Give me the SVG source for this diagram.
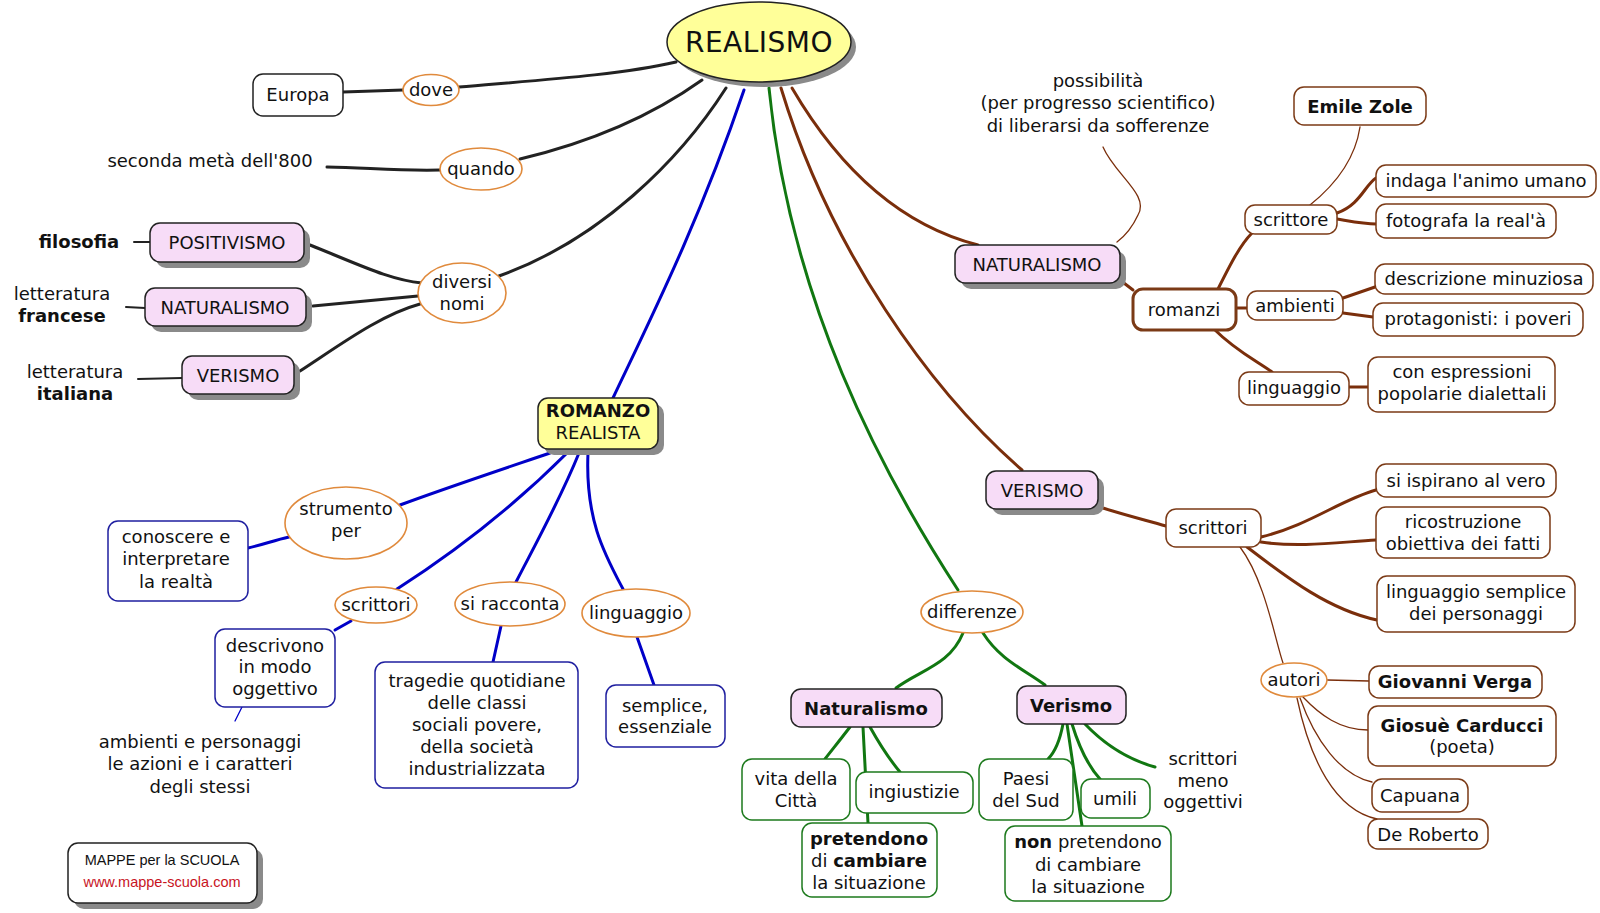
<svg xmlns="http://www.w3.org/2000/svg" width="1600" height="913" viewBox="0 0 1600 913">
<style>
text{font-family:"DejaVu Sans",Verdana,sans-serif;font-size:18px;fill:#111;text-anchor:middle}
.b{font-weight:bold}
.l{text-anchor:start}
.sh{fill:#8a8a8a}
.pk{fill:#f7dcf7;stroke:#222;stroke-width:1.5}
.yl{fill:#ffff99;stroke:#222;stroke-width:1.5}
.wb{fill:#fff;stroke:#222;stroke-width:1.5}
.ov{fill:#fff;stroke:#e08a3c;stroke-width:1.6}
.bl{fill:#fff;stroke:#1f1fa0;stroke-width:1.5}
.gr{fill:#fff;stroke:#1d7a1d;stroke-width:1.5}
.br{fill:#fff;stroke:#7b3a16;stroke-width:1.5}
#connectors path{fill:none;stroke-width:3;stroke-linecap:round}
#connectors .k{stroke:#222}
#connectors .u{stroke:#0000c8}
#connectors .g{stroke:#117711}
#connectors .r{stroke:#7a2e0b}
#connectors .t{stroke-width:1.3}
</style>
<rect width="1600" height="913" fill="#fff"/>
<g id="connectors">
<path class="k" d="M343,92 L403,90"/>
<path class="k" d="M459,87 C540,80 620,75 676,62"/>
<path class="k" d="M327,167 C370,168 400,171 440,170"/>
<path class="k" d="M520,159 C600,140 660,110 702,80"/>
<path class="k" d="M499,276 C600,240 680,160 726,88"/>
<path class="k" d="M310,245 C360,265 390,280 422,283"/>
<path class="k" d="M313,306 L418,296"/>
<path class="k" d="M300,371 C340,345 380,315 420,304"/>
<path class="k t" style="stroke-width:2" d="M134,242 L150,242"/>
<path class="k t" style="stroke-width:2" d="M126,307 L145,308"/>
<path class="k t" style="stroke-width:2" d="M138,379 L182,378"/>
<path class="u" d="M744,90 C700,220 650,320 613,398"/>
<path class="u" d="M550,453 C500,470 440,490 400,505"/>
<path class="u" d="M289,537 C275,540 262,545 248,548"/>
<path class="u" d="M567,453 C510,510 450,555 397,589"/>
<path class="u" d="M351,621 L335,630"/>
<path class="u" d="M579,453 C560,500 535,545 516,582"/>
<path class="u" d="M501,626 L493,662"/>
<path class="u" d="M588,453 C585,520 605,555 623,589"/>
<path class="u" d="M637,637 L654,685"/>
<path class="u t" d="M242,707 L235,721"/>
<path class="g" d="M769,88 C790,300 880,470 958,590"/>
<path class="g" d="M963,633 C950,665 920,670 896,688"/>
<path class="g" d="M983,633 C1000,660 1025,670 1045,685"/>
<path class="g" d="M850,727 C840,740 832,750 825,759"/>
<path class="g" d="M863,727 L868,823"/>
<path class="g" d="M870,727 C880,745 890,760 900,772"/>
<path class="g" d="M1063,724 C1060,740 1055,752 1048,759"/>
<path class="g" d="M1067,724 L1082,826"/>
<path class="g" d="M1072,724 C1080,750 1090,768 1100,779"/>
<path class="g" d="M1085,724 C1105,745 1130,760 1155,767"/>
<path class="r" d="M792,88 C840,170 900,225 978,245"/>
<path class="r" d="M781,88 C830,250 930,390 1022,470"/>
<path class="r" d="M1120,280 L1133,290"/>
<path class="r" d="M1218,289 C1230,265 1240,245 1252,233"/>
<path class="r" d="M1236,308 L1247,308"/>
<path class="r" d="M1215,330 C1235,350 1255,360 1272,372"/>
<path class="r" d="M1337,213 C1360,205 1365,185 1376,178"/>
<path class="r" d="M1337,219 C1355,222 1365,224 1376,224"/>
<path class="r" d="M1343,298 L1375,287"/>
<path class="r" d="M1343,313 L1373,317"/>
<path class="r" d="M1349,387 L1368,387"/>
<path class="r" d="M1103,508 C1125,515 1145,520 1166,526"/>
<path class="r" d="M1261,537 C1310,525 1340,500 1376,490"/>
<path class="r" d="M1261,542 C1300,548 1340,542 1376,540"/>
<path class="r" d="M1247,547 C1290,580 1330,610 1377,620"/>
<path class="r t" d="M1360,127 C1355,160 1335,185 1310,205"/>
<path class="r t" d="M1103,147 C1115,175 1150,195 1138,215 C1132,228 1125,236 1117,242"/>
<path class="r t" d="M1240,547 C1265,580 1275,640 1283,663"/>
<path class="r t" d="M1327,680 L1369,681"/>
<path class="r t" d="M1303,697 C1320,715 1340,730 1368,730"/>
<path class="r t" d="M1300,698 C1315,740 1340,775 1372,782"/>
<path class="r t" d="M1297,698 C1310,760 1335,810 1377,819"/>
</g>
<g id="realismo"><ellipse class="sh" cx="764" cy="47" rx="92" ry="40"/><ellipse class="yl" cx="759" cy="42" rx="92" ry="40"/><text x="759" y="52" style="font-size:28px;letter-spacing:0.5px">REALISMO</text></g>
<g id="europa"><rect class="wb" x="253" y="74" width="90" height="42" rx="10"/><text x="298" y="101">Europa</text></g>
<g id="dove"><ellipse class="ov" cx="431" cy="90" rx="28" ry="15.5"/><text x="431" y="96">dove</text></g>
<g id="seconda"><text x="210" y="167">seconda metà dell'800</text></g>
<g id="quando"><ellipse class="ov" cx="481" cy="169" rx="41" ry="21"/><text x="481" y="175">quando</text></g>
<g id="positivismo"><rect class="sh" x="156" y="229" width="154" height="39" rx="10"/><rect class="pk" x="150" y="223" width="154" height="39" rx="10"/><text x="227" y="249">POSITIVISMO</text></g>
<g id="filosofia"><text class="b" x="79" y="248">filosofia</text></g>
<g id="naturalismo-l"><rect class="sh" x="151" y="294" width="161" height="38" rx="10"/><rect class="pk" x="145" y="288" width="161" height="38" rx="10"/><text x="225" y="314">NATURALISMO</text></g>
<g id="lett-francese"><text x="62" y="300">letteratura</text><text class="b" x="62" y="322">francese</text></g>
<g id="verismo-l"><rect class="sh" x="188" y="362" width="112" height="38" rx="10"/><rect class="pk" x="182" y="356" width="112" height="38" rx="10"/><text x="238" y="382">VERISMO</text></g>
<g id="lett-italiana"><text x="75" y="378">letteratura</text><text class="b" x="75" y="400">italiana</text></g>
<g id="diversi"><ellipse class="ov" cx="462" cy="293" rx="44" ry="30"/><text x="462" y="288">diversi</text><text x="462" y="310">nomi</text></g>
<g id="romanzo"><rect class="sh" x="544" y="404" width="120" height="51" rx="10"/><rect class="yl" x="538" y="398" width="120" height="51" rx="10"/><text class="b" x="598" y="417">ROMANZO</text><text x="598" y="439">REALISTA</text></g>
<g id="strumento"><ellipse class="ov" cx="346" cy="523" rx="61" ry="36"/><text x="346" y="515">strumento</text><text x="346" y="537">per</text></g>
<g id="conoscere"><rect class="bl" x="108" y="521" width="140" height="80" rx="10"/><text x="176" y="543">conoscere e</text><text x="176" y="565">interpretare</text><text x="176" y="588">la realtà</text></g>
<g id="scrittori-l"><ellipse class="ov" cx="376" cy="605" rx="41" ry="18"/><text x="376" y="611">scrittori</text></g>
<g id="descrivono"><rect class="bl" x="215" y="629" width="120" height="78" rx="10"/><text x="275" y="652">descrivono</text><text x="275" y="673">in modo</text><text x="275" y="695">oggettivo</text></g>
<g id="ambienti-pers"><text x="200" y="748">ambienti e personaggi</text><text x="200" y="770">le azioni e i caratteri</text><text x="200" y="793">degli stessi</text></g>
<g id="siracconta"><ellipse class="ov" cx="510" cy="604" rx="55" ry="22"/><text x="510" y="610">si racconta</text></g>
<g id="tragedie"><rect class="bl" x="375" y="662" width="203" height="126" rx="10"/><text x="477" y="687">tragedie quotidiane</text><text x="477" y="709">delle classi</text><text x="477" y="731">sociali povere,</text><text x="477" y="753">della società</text><text x="477" y="775">industrializzata</text></g>
<g id="linguaggio-l"><ellipse class="ov" cx="636" cy="613" rx="54" ry="24"/><text x="636" y="619">linguaggio</text></g>
<g id="semplice"><rect class="bl" x="606" y="685" width="119" height="62" rx="10"/><text x="665" y="712">semplice,</text><text x="665" y="733">essenziale</text></g>
<g id="mappe"><rect class="sh" x="74" y="849" width="189" height="60" rx="10"/><rect class="wb" x="68" y="843" width="189" height="60" rx="10"/><text x="162" y="865" style="font-family:'Liberation Sans',Arial,sans-serif;font-size:14.5px">MAPPE per la SCUOLA</text><text x="162" y="887" style="font-family:'Liberation Sans',Arial,sans-serif;font-size:14.5px;fill:#c8141e">www.mappe-scuola.com</text></g>
<g id="differenze"><ellipse class="ov" cx="972" cy="612" rx="51" ry="21"/><text x="972" y="618">differenze</text></g>
<g id="naturalismo-g"><rect class="pk" x="791" y="689" width="151" height="38" rx="10"/><text class="b" x="866" y="715">Naturalismo</text></g>
<g id="verismo-g"><rect class="pk" x="1017" y="686" width="109" height="38" rx="10"/><text class="b" x="1071" y="712">Verismo</text></g>
<g id="vita"><rect class="gr" x="742" y="759" width="108" height="61" rx="10"/><text x="796" y="785">vita della</text><text x="796" y="807">Città</text></g>
<g id="ingiustizie"><rect class="gr" x="856" y="772" width="117" height="41" rx="10"/><text x="914" y="798">ingiustizie</text></g>
<g id="pretendono"><rect class="gr" x="802" y="823" width="135" height="74" rx="10"/><text class="b" x="869" y="845">pretendono</text><text x="869" y="867">di <tspan class="b">cambiare</tspan></text><text x="869" y="889">la situazione</text></g>
<g id="paesi"><rect class="gr" x="979" y="759" width="94" height="61" rx="10"/><text x="1026" y="785">Paesi</text><text x="1026" y="807">del Sud</text></g>
<g id="umili"><rect class="gr" x="1081" y="779" width="69" height="39" rx="10"/><text x="1115" y="805">umili</text></g>
<g id="nonpretendono"><rect class="gr" x="1005" y="826" width="166" height="75" rx="10"/><text x="1088" y="848"><tspan class="b">non</tspan> pretendono</text><text x="1088" y="871">di cambiare</text><text x="1088" y="893">la situazione</text></g>
<g id="scrittori-meno"><text x="1203" y="765">scrittori</text><text x="1203" y="787">meno</text><text x="1203" y="808">oggettivi</text></g>
<g id="naturalismo-r"><rect class="sh" x="961" y="251" width="165" height="38" rx="10"/><rect class="pk" x="955" y="245" width="165" height="38" rx="10"/><text x="1037" y="271">NATURALISMO</text></g>
<g id="possibilita"><text x="1098" y="87">possibilità</text><text x="1098" y="109">(per progresso scientifico)</text><text x="1098" y="132">di liberarsi da sofferenze</text></g>
<g id="emile"><rect class="br" x="1294" y="87" width="132" height="38" rx="10"/><text class="b" x="1360" y="113">Emile Zole</text></g>
<g id="scrittore"><rect class="br" x="1245" y="205" width="92" height="29" rx="10"/><text x="1291" y="226">scrittore</text></g>
<g id="indaga"><rect class="br" x="1376" y="165" width="220" height="32" rx="10"/><text x="1486" y="187">indaga l'animo umano</text></g>
<g id="fotografa"><rect class="br" x="1376" y="204" width="180" height="34" rx="10"/><text x="1466" y="227">fotografa la real'à</text></g>
<g id="romanzi"><rect class="br" style="stroke-width:3" x="1133" y="289" width="103" height="41" rx="10"/><text x="1184" y="316">romanzi</text></g>
<g id="ambienti"><rect class="br" x="1247" y="291" width="96" height="29" rx="10"/><text x="1295" y="312">ambienti</text></g>
<g id="descrizione"><rect class="br" x="1375" y="264" width="218" height="30" rx="10"/><text x="1484" y="285">descrizione minuziosa</text></g>
<g id="protagonisti"><rect class="br" x="1373" y="303" width="210" height="33" rx="10"/><text x="1478" y="325">protagonisti: i poveri</text></g>
<g id="linguaggio-r"><rect class="br" x="1239" y="372" width="110" height="33" rx="10"/><text x="1294" y="394">linguaggio</text></g>
<g id="espressioni"><rect class="br" x="1368" y="357" width="187" height="55" rx="10"/><text x="1462" y="378">con espressioni</text><text x="1462" y="400">popolarie dialettali</text></g>
<g id="verismo-r"><rect class="sh" x="992" y="477" width="112" height="38" rx="10"/><rect class="pk" x="986" y="471" width="112" height="38" rx="10"/><text x="1042" y="497">VERISMO</text></g>
<g id="scrittori-r"><rect class="br" x="1166" y="509" width="95" height="38" rx="10"/><text x="1213" y="534">scrittori</text></g>
<g id="ispirano"><rect class="br" x="1376" y="464" width="180" height="33" rx="10"/><text x="1466" y="487">si ispirano al vero</text></g>
<g id="ricostruzione"><rect class="br" x="1376" y="507" width="174" height="51" rx="10"/><text x="1463" y="528">ricostruzione</text><text x="1463" y="550">obiettiva dei fatti</text></g>
<g id="linguaggio-semplice"><rect class="br" x="1377" y="576" width="198" height="56" rx="10"/><text x="1476" y="598">linguaggio semplice</text><text x="1476" y="620">dei personaggi</text></g>
<g id="autori"><ellipse class="ov" cx="1294" cy="680" rx="33" ry="17"/><text x="1294" y="686">autori</text></g>
<g id="verga"><rect class="br" x="1369" y="666" width="173" height="32" rx="10"/><text class="b" x="1455" y="688">Giovanni Verga</text></g>
<g id="carducci"><rect class="br" x="1368" y="706" width="188" height="60" rx="10"/><text class="b" x="1462" y="732">Giosuè Carducci</text><text x="1462" y="753">(poeta)</text></g>
<g id="capuana"><rect class="br" x="1372" y="779" width="96" height="33" rx="10"/><text x="1420" y="802">Capuana</text></g>
<g id="deroberto"><rect class="br" x="1368" y="819" width="120" height="30" rx="10"/><text x="1428" y="841">De Roberto</text></g>
</svg>
